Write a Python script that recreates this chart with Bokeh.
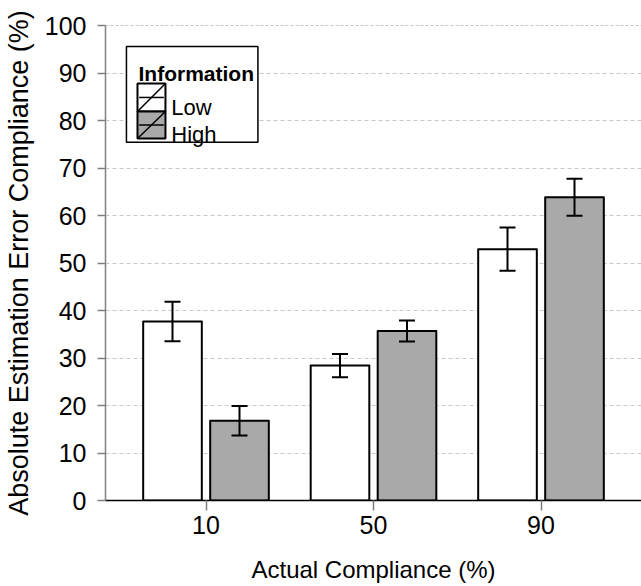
from bokeh.plotting import figure
from bokeh.models import ColumnDataSource, Whisker, TeeHead, FixedTicker, Span, Range1d
from bokeh.core.properties import value
from bokeh.embed import file_html
from bokeh.resources import INLINE

# ---- data ----
categories = ["10", "50", "90"]
groups = ["Low", "High"]
low_mean = [37.7, 28.4, 52.9]
low_err = [4.15, 2.45, 4.55]
high_mean = [16.8, 35.7, 63.85]
high_err = [3.1, 2.2, 3.9]
y_ticks = [0, 10, 20, 30, 40, 50, 60, 70, 80, 90, 100]

FONT = "Liberation Sans"
GRAY = "#a9a9a9"

p = figure(width=641, height=586, output_backend="svg", toolbar_location=None,
           x_range=Range1d(0.4, 3.6), y_range=Range1d(0, 100),
           min_border_left=104, min_border_right=0, min_border_top=25,
           min_border_bottom=86)
p.outline_line_color = None
p.background_fill_color = "white"

pos = [i + 1 for i in range(len(categories))]
dodge = 0.2
bw = 0.35

x_low = [x - dodge for x in pos]
x_high = [x + dodge for x in pos]

src_low = ColumnDataSource(dict(x=x_low, top=low_mean,
                                upper=[m + e for m, e in zip(low_mean, low_err)],
                                lower=[m - e for m, e in zip(low_mean, low_err)]))
src_high = ColumnDataSource(dict(x=x_high, top=high_mean,
                                 upper=[m + e for m, e in zip(high_mean, high_err)],
                                 lower=[m - e for m, e in zip(high_mean, high_err)]))

p.vbar(x="x", top="top", bottom=0, width=bw, source=src_low, fill_color="white",
       line_color="black", line_width=2, line_join="round")
p.vbar(x="x", top="top", bottom=0, width=bw, source=src_high, fill_color=GRAY,
       line_color="black", line_width=2, line_join="round")

for src in (src_low, src_high):
    w = Whisker(base="x", upper="upper", lower="lower", source=src,
                line_color="black", line_width=2, level="annotation",
                upper_head=TeeHead(size=16, line_width=2, line_color="black"),
                lower_head=TeeHead(size=16, line_width=2, line_color="black"))
    p.add_layout(w)

# ---- axes ----
p.xaxis.ticker = FixedTicker(ticks=pos)
p.xaxis.major_label_overrides = {x: c for x, c in zip(pos, categories)}
p.xaxis.axis_label = "Actual Compliance (%)"
p.yaxis.axis_label = "Absolute Estimation Error Compliance (%)"
p.yaxis.ticker = FixedTicker(ticks=y_ticks)

for ax in (p.xaxis[0], p.yaxis[0]):
    ax.axis_label_text_font = FONT
    ax.axis_label_text_font_style = "normal"
    ax.axis_label_text_color = "black"
    ax.major_label_text_font = FONT
    ax.major_label_text_font_size = "25px"
    ax.major_label_text_color = "black"
    ax.minor_tick_line_color = None
    ax.major_tick_line_color = "#808080"
    ax.major_tick_line_width = 1.5
    ax.major_tick_in = 0

p.xaxis.axis_label_text_font_size = "24px"
p.yaxis.axis_label_text_font_size = "27px"
p.xaxis.major_tick_out = 10
p.yaxis.major_tick_out = 8
p.xaxis.major_label_standoff = 5
p.yaxis.major_label_standoff = 11
p.xaxis.axis_label_standoff = 19
p.yaxis.axis_label_standoff = 8
p.xaxis.axis_line_color = "black"
p.xaxis.axis_line_width = 1.5
p.yaxis.axis_line_color = "#808080"
p.yaxis.axis_line_width = 1.5

p.xgrid.grid_line_color = None
p.ygrid.grid_line_color = "#c8c8c8"
p.ygrid.grid_line_dash = "4 3"
p.ygrid.grid_line_width = 1

p.add_layout(Span(location=100, dimension="width", line_color="#8c8c8c",
                  line_dash="3 2", line_width=1))

# ---- legend (drawn as overlay glyphs, positions in plot units) ----
lg_left, lg_right, lg_top, lg_bottom = 0.525, 1.31, 95.6, 75.4
sw_left, sw_right = 0.591, 0.758
sw_top = [87.8, 81.9]
sw_bottom = [81.9, 76.2]
sw_fill = ["white", GRAY]

p.quad(left=[lg_left], right=[lg_right], top=[lg_top], bottom=[lg_bottom],
       fill_color="white", line_color="black", line_width=1.5, level="overlay")
p.text(x=[0.597], y=[89.9], text=["Information"], text_font=value(FONT),
       text_font_size="21px", text_font_style="bold", text_baseline="alphabetic",
       text_color="black", level="overlay")
p.quad(left=[sw_left] * 2, right=[sw_right] * 2, top=sw_top, bottom=sw_bottom,
       fill_color=sw_fill, line_color="black", line_width=2, level="overlay")
p.segment(x0=[sw_left] * 2, y0=sw_bottom, x1=[sw_right] * 2, y1=sw_top,
          line_color="black", line_width=1.5, level="overlay")
mid = [(t + b) / 2 for t, b in zip(sw_top, sw_bottom)]
p.segment(x0=[sw_left + 0.01] * 2, y0=mid, x1=[sw_right - 0.01] * 2, y1=mid,
          line_color="black", line_width=1.5, level="overlay")
p.text(x=[0.793] * 2, y=[82.74, 77.05], text=groups, text_font=value(FONT),
       text_font_size="22px", text_baseline="alphabetic", text_color="black",
       level="overlay")

open("out.html", "w").write(file_html(p, INLINE))
